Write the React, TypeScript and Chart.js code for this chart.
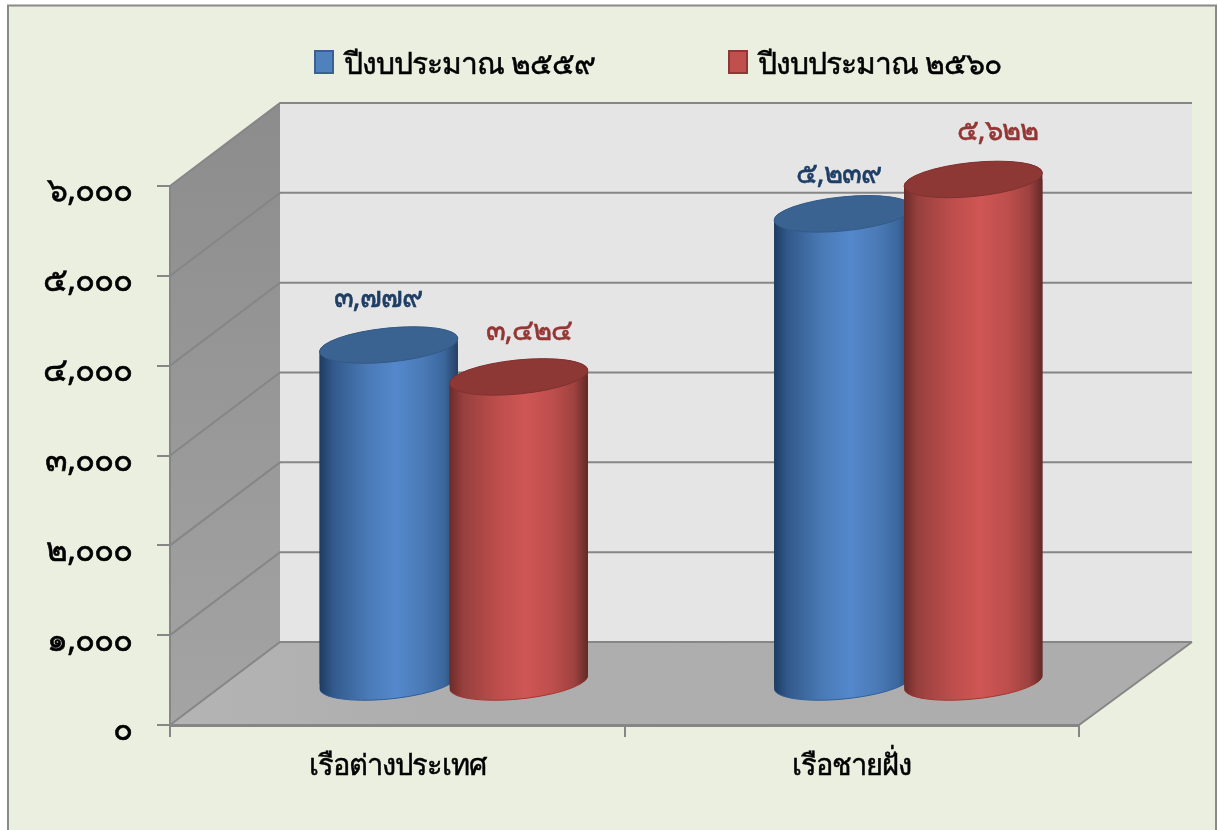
import React, { useEffect, useRef } from "react";
import { Chart, registerables } from "chart.js";

Chart.register(...registerables);

const categories = ["เรือต่างประเทศ", "เรือชายฝั่ง"];
const seriesNames = ["ปีงบประมาณ ๒๕๕๙", "ปีงบประมาณ ๒๕๖๐"];
const values2559 = [3779, 5239];
const values2560 = [3424, 5622];
const yTicks = [0, 1000, 2000, 3000, 4000, 5000, 6000];

const FONT = '"Noto Sans", "DejaVu Sans", sans-serif';
const DEPTH_X = 110;
const DEPTH_Y = 83;
const BAR_W = 139;
const ELL_RY = 17;
const ELL_ROT = -0.1;
const BASE_LIFT = 1.5;
// per-dataset shift that sets a cylinder in the middle of the floor
const SHIFT = [{ x: -8.5, y: -40.5 }, { x: 121.5, y: -40.5 }];
// manual label offsets from the cylinder top, as in the reference
const LABEL_OFFSET = [
  [{ x: -11, y: -46 }, { x: -5, y: -39 }],
  [{ x: 10, y: -45 }, { x: 24, y: -48 }],
];
const STYLE = [
  {
    stops: ["#1d3b60", "#32598c", "#4a7ab6", "#5488cc", "#4a7ab6", "#3a669c", "#263f60"],
    top: "#3b6391", rim: "#345a86", edge: "#2f5f9a", label: "#1f3e66", swatch: "#4f81bd", swatchEdge: "#38618f",
  },
  {
    stops: ["#6a2a29", "#97403e", "#bd4e4c", "#cf5654", "#bd4e4c", "#9e4240", "#612826"],
    top: "#8e3836", rim: "#7f3230", edge: "#a83532", label: "#943634", swatch: "#c0504d", swatchEdge: "#8e3836",
  },
];
const stopAt = [0, 0.1, 0.35, 0.55, 0.75, 0.9, 1];

const thai = (s: string) => s.replace(/[0-9]/g, (d) => "๐๑๒๓๔๕๖๗๘๙"[+d]);
const fmt = (v: number) => thai(v.toLocaleString("en-US"));

function bodyGradient(ctx: CanvasRenderingContext2D, idx: number, x: number) {
  const g = ctx.createLinearGradient(x - BAR_W / 2, 0, x + BAR_W / 2, 0);
  STYLE[idx].stops.forEach((c, i) => g.addColorStop(stopAt[i], c));
  return g;
}

function bodyPath(x: number, top: number, base: number) {
  const rx = BAR_W / 2;
  const p = new Path2D();
  p.ellipse(x, top, rx, ELL_RY, ELL_ROT, Math.PI, 2 * Math.PI);
  p.ellipse(x, base - BASE_LIFT, rx, ELL_RY, ELL_ROT, 0, Math.PI);
  p.closePath();
  return p;
}

const cylinderPlugin = {
  id: "cylinder",
  beforeDatasetDraw(chart: any, args: any) {
    const { ctx } = chart;
    const i = args.index;
    ctx.save();
    ctx.translate(SHIFT[i].x, SHIFT[i].y);
    // lit side of each cylinder, the native bar is painted inside it
    const path = new Path2D();
    args.meta.data.forEach((el: any) => {
      const p = bodyPath(el.x, el.y, el.base);
      path.addPath(p);
      ctx.fillStyle = bodyGradient(ctx, i, el.x);
      ctx.fill(p);
      ctx.strokeStyle = STYLE[i].edge;
      ctx.lineWidth = 1;
      ctx.beginPath();
      ctx.ellipse(el.x, el.base - BASE_LIFT, BAR_W / 2, ELL_RY, ELL_ROT, 0.1, Math.PI - 0.1);
      ctx.stroke();
    });
    ctx.clip(path);
  },
  afterDatasetDraw(chart: any, args: any) {
    const { ctx } = chart;
    const i = args.index;
    ctx.restore();
    ctx.save();
    ctx.translate(SHIFT[i].x, SHIFT[i].y);
    args.meta.data.forEach((el: any, n: number) => {
      ctx.fillStyle = STYLE[i].top;
      ctx.strokeStyle = STYLE[i].rim;
      ctx.lineWidth = 1;
      ctx.beginPath();
      ctx.ellipse(el.x, el.y, BAR_W / 2, ELL_RY, ELL_ROT, 0, 2 * Math.PI);
      ctx.fill();
      ctx.stroke();
      const off = LABEL_OFFSET[i][n];
      ctx.font = `29px ${FONT}`;
      ctx.fillStyle = STYLE[i].label;
      ctx.strokeStyle = STYLE[i].label;
      ctx.lineWidth = 0.6;
      ctx.textAlign = "center";
      ctx.textBaseline = "middle";
      const txt = fmt(chart.data.datasets[i].data[n]);
      ctx.fillText(txt, el.x + off.x, el.y + off.y);
      ctx.strokeText(txt, el.x + off.x, el.y + off.y);
    });
    ctx.restore();
  },
};

const backdropPlugin = {
  id: "backdrop",
  beforeDraw(chart: any) {
    const { ctx, scales } = chart;
    ctx.letterSpacing = "-1px";
    ctx.save();
    ctx.fillStyle = "#ebefdf";
    ctx.fillRect(7, 5, 1210, 840);
    ctx.strokeStyle = "#8a8a8a";
    ctx.lineWidth = 2;
    ctx.strokeRect(8, 5.5, 1208, 840);

    const x0 = scales.x.left;
    const x1 = scales.x.right;
    const y0 = scales.y.getPixelForValue(0);
    const y6 = scales.y.getPixelForValue(6000);

    ctx.fillStyle = "#e5e5e5";
    ctx.fillRect(x0 + DEPTH_X, y6 - DEPTH_Y, x1 - x0 + 3, y0 - y6);

    const wall = ctx.createLinearGradient(0, y6 - DEPTH_Y, 0, y0);
    wall.addColorStop(0, "#8c8c8c");
    wall.addColorStop(1, "#a4a4a4");
    ctx.fillStyle = wall;
    ctx.beginPath();
    ctx.moveTo(x0, y6);
    ctx.lineTo(x0 + DEPTH_X, y6 - DEPTH_Y);
    ctx.lineTo(x0 + DEPTH_X, y0 - DEPTH_Y);
    ctx.lineTo(x0, y0);
    ctx.closePath();
    ctx.fill();

    const floor = ctx.createLinearGradient(x0, 0, x1 + DEPTH_X, 0);
    floor.addColorStop(0, "#b4b4b4");
    floor.addColorStop(0.25, "#aeaeae");
    floor.addColorStop(1, "#adadad");
    ctx.fillStyle = floor;
    ctx.beginPath();
    ctx.moveTo(x0, y0);
    ctx.lineTo(x0 + DEPTH_X, y0 - DEPTH_Y);
    ctx.lineTo(x1 + DEPTH_X + 3, y0 - DEPTH_Y);
    ctx.lineTo(x1, y0);
    ctx.closePath();
    ctx.fill();

    // grid lines run along the side wall, then across the back wall
    ctx.strokeStyle = "#868686";
    ctx.lineWidth = 2;
    scales.y.ticks.forEach((t: any) => {
      const y = scales.y.getPixelForValue(t.value);
      ctx.beginPath();
      ctx.moveTo(x0, y);
      ctx.lineTo(x0 + DEPTH_X, y - DEPTH_Y);
      ctx.lineTo(x1 + DEPTH_X + 3, y - DEPTH_Y);
      ctx.stroke();
    });
    ctx.beginPath();
    ctx.moveTo(x1, y0);
    ctx.lineTo(x1 + DEPTH_X + 3, y0 - DEPTH_Y);
    ctx.stroke();
    ctx.restore();
  },
  afterDraw(chart: any) {
    const { ctx } = chart;
    ctx.save();
    const items = [{ box: 314, text: 344 }, { box: 728, text: 758 }];
    items.forEach((it, i) => {
      ctx.fillStyle = STYLE[i].swatch;
      ctx.strokeStyle = STYLE[i].swatchEdge;
      ctx.lineWidth = 2;
      ctx.fillRect(it.box + 1, 51, 18, 22);
      ctx.strokeRect(it.box + 1, 51, 18, 22);
      ctx.fillStyle = "#000";
      ctx.strokeStyle = "#000";
      ctx.lineWidth = 0.5;
      ctx.font = `30px ${FONT}`;
      ctx.textAlign = "left";
      ctx.textBaseline = "middle";
      const txt = chart.data.datasets[i].label;
      ctx.fillText(txt, it.text, 65);
      ctx.strokeText(txt, it.text, 65);
    });
    ctx.restore();
  },
};

export default function App() {
  const ref = useRef<HTMLCanvasElement>(null);
  useEffect(() => {
    document.body.style.margin = "0";
    const chart = new Chart(ref.current as HTMLCanvasElement, {
      type: "bar",
      data: {
        labels: categories,
        datasets: [values2559, values2560].map((data, i) => ({
          label: seriesNames[i],
          data,
          order: 1 - i,
          grouped: false,
          clip: false,
          barThickness: BAR_W,
          borderWidth: 0,
          backgroundColor: (c: any) => {
            const x = c.chart.scales.x?.getPixelForValue(c.dataIndex);
            return Number.isFinite(x) ? bodyGradient(c.chart.ctx, i, x) : STYLE[i].swatch;
          },
        })),
      } as any,
      plugins: [backdropPlugin, cylinderPlugin],
      options: {
        responsive: false,
        animation: false,
        layout: { padding: { left: 0, right: 139, top: 186, bottom: 0 } },
        plugins: { legend: { display: false }, title: { display: false }, tooltip: { enabled: false } },
        scales: {
          x: {
            afterFit: (s: any) => { s.height = 105; },
            grid: { drawOnChartArea: false, drawTicks: true, tickLength: 12, color: "#868686", lineWidth: 2 },
            border: { color: "#868686", width: 3 },
            ticks: {
              color: "#000",
              padding: 12,
              font: { family: FONT, size: 29 },
              textStrokeColor: "#000",
              textStrokeWidth: 0.5,
              maxRotation: 0,
            },
          },
          y: {
            min: 0,
            max: 6000,
            afterFit: (s: any) => { s.width = 170; },
            afterBuildTicks: (s: any) => { s.ticks = yTicks.map((value) => ({ value })); },
            grid: { drawOnChartArea: false, drawTicks: true, tickLength: 13, color: "#868686", lineWidth: 2 },
            border: { color: "#868686", width: 2 },
            ticks: {
              color: "#000",
              padding: 25,
              labelOffset: 6,
              font: { family: FONT, size: 33 },
              textStrokeColor: "#000",
              textStrokeWidth: 0.6,
              callback: (v: any) => fmt(Number(v)),
            },
          },
        },
      } as any,
    });
    return () => chart.destroy();
  }, []);
  return (
    <canvas
      ref={ref}
      width={1218}
      height={830}
      style={{ display: "block", position: "absolute", left: 0, top: 0 }}
    />
  );
}
